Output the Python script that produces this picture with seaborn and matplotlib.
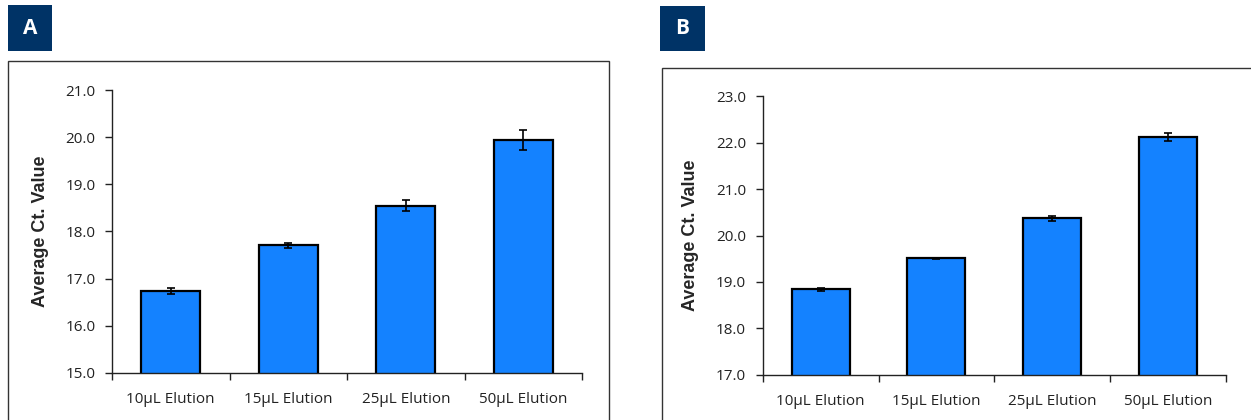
import matplotlib
matplotlib.use("Agg")
import matplotlib.pyplot as plt
from matplotlib.patches import Rectangle
from matplotlib.ticker import FixedLocator
import seaborn as sns
import pandas as pd

# Elution volumes compared in both panels
categories = ["10µL Elution", "15µL Elution", "25µL Elution", "50µL Elution"]

# Panel A: average Ct values and standard deviations
ct_a = [16.74, 17.71, 18.55, 19.94]
err_a = [0.06, 0.05, 0.12, 0.21]

# Panel B: average Ct values and standard deviations
ct_b = [18.84, 19.51, 20.37, 22.12]
err_b = [0.03, 0.01, 0.06, 0.09]

# Axis ranges and tick labels
yticks_a = [15.0, 16.0, 17.0, 18.0, 19.0, 20.0, 21.0]
yticks_b = [17.0, 18.0, 19.0, 20.0, 21.0, 22.0, 23.0]

BAR_COLOR = "#1482FF"
NAVY = "#003366"
W, H = 1251, 420

sns.set_style("white")
plt.rcParams["font.family"] = ["Open Sans", "DejaVu Sans"]

fig = plt.figure(figsize=(W / 100, H / 100), dpi=100)


def px_rect(x0, y0, x1, y1):
    """Convert pixel box (top-left origin) to figure-fraction [l, b, w, h]."""
    return [x0 / W, 1 - y1 / H, (x1 - x0) / W, (y1 - y0) / H]


def panel(label, box, frame, axrect, values, errors, yticks):
    # outer frame around the chart
    fx0, fy0, fx1, fy1 = frame
    l, b, w, h = px_rect(fx0, fy0, fx1, fy1)
    fig.add_artist(Rectangle((l, b), w, h, transform=fig.transFigure,
                             fill=False, edgecolor="#333333", linewidth=1.0))
    # panel letter badge
    bx0, by0, bx1, by1 = box
    l, b, w, h = px_rect(bx0, by0, bx1, by1)
    fig.add_artist(Rectangle((l, b), w, h, transform=fig.transFigure,
                             facecolor=NAVY, edgecolor="none"))
    fig.text(l + w / 2, b + h / 2, label, color="white", fontsize=15,
             fontweight="bold", ha="center", va="center",
             family=["Open Sans", "DejaVu Sans"])

    ax = fig.add_axes(px_rect(*axrect))
    df = pd.DataFrame({"cat": categories, "ct": values})
    sns.barplot(data=df, x="cat", y="ct", ax=ax, color=BAR_COLOR,
                saturation=1, width=0.5, edgecolor="black", linewidth=1.6,
                errorbar=None)
    ax.errorbar(range(len(categories)), values, yerr=errors, fmt="none",
                ecolor="black", elinewidth=1.2, capsize=3, capthick=1.2,
                zorder=5)

    ax.set_ylim(yticks[0], yticks[-1])
    ax.set_xlim(-0.5, len(categories) - 0.5)
    ax.set_yticks(yticks)
    ax.set_yticklabels([f"{v:.1f}" for v in yticks])
    ax.set_xlabel("")
    ax.set_ylabel("Average Ct. Value", fontsize=13, fontweight="bold",
                  family=["Liberation Sans", "DejaVu Sans"], labelpad=12)

    for side in ("top", "right"):
        ax.spines[side].set_visible(False)
    for side in ("left", "bottom"):
        ax.spines[side].set_color("#222222")
        ax.spines[side].set_linewidth(1.0)

    ax.tick_params(axis="y", direction="out", length=5, width=1.0,
                   color="#222222", labelsize=11, pad=7, left=True,
                   labelcolor="#222222")
    # category labels centered, tick marks at boundaries
    ax.tick_params(axis="x", which="major", length=0, labelsize=11,
                   pad=14, labelcolor="#222222")
    ax.xaxis.set_minor_locator(FixedLocator(
        [i - 0.5 for i in range(len(categories) + 1)]))
    ax.tick_params(axis="x", which="minor", direction="out", length=5,
                   width=1.0, color="#222222", bottom=True)
    return ax


panel("A", (8, 5, 52, 51), (8, 61, 609, 440),
      (112, 90, 582, 373), ct_a, err_a, yticks_a)
panel("B", (660, 6, 705, 51), (662, 68, 1270, 440),
      (762.7, 96.3, 1226, 374.7), ct_b, err_b, yticks_b)

fig.savefig("out.png", dpi=100, facecolor="white")
